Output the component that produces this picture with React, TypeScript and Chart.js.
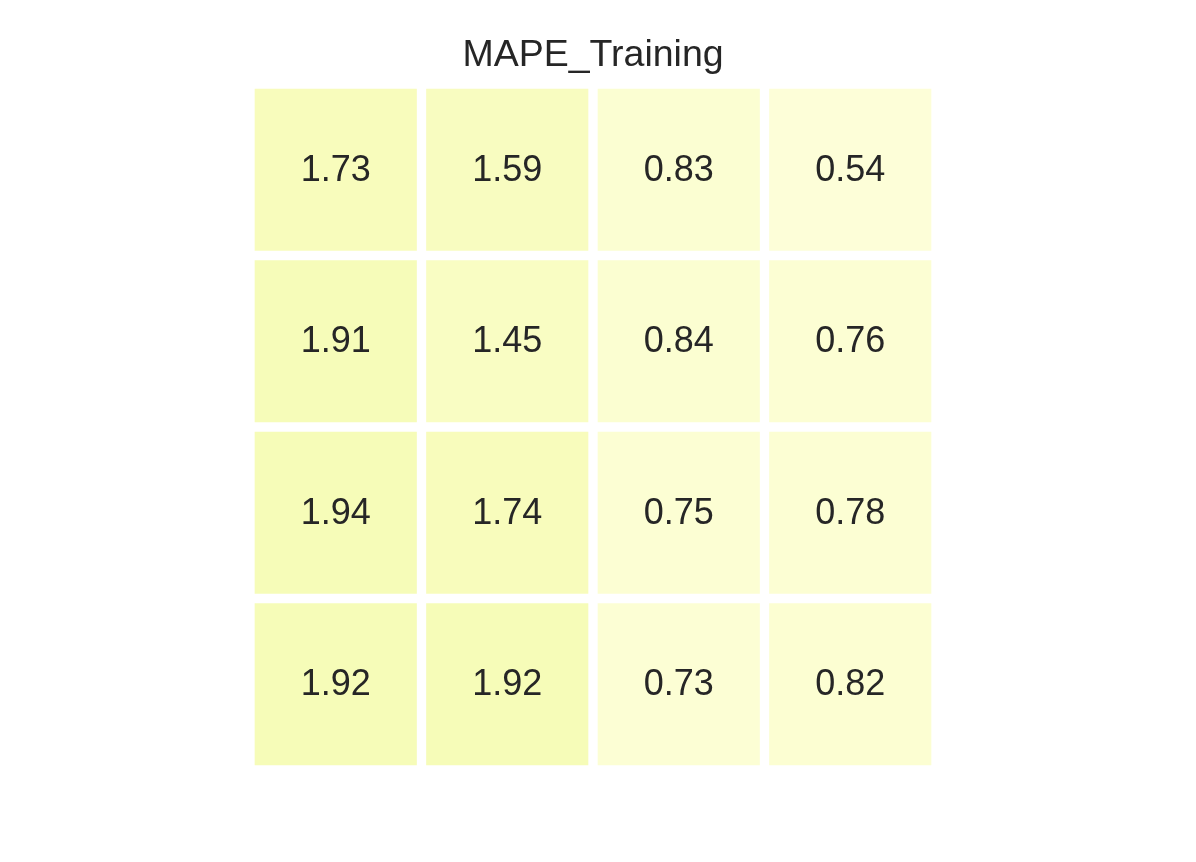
import React, { useEffect, useRef } from "react";
import { Chart, registerables } from "chart.js";

Chart.register(...registerables);

const title = "MAPE_Training";
const columnLabels = ["C1", "C2", "C3", "C4"];
const row1 = [1.73, 1.59, 0.83, 0.54];
const row2 = [1.91, 1.45, 0.84, 0.76];
const row3 = [1.94, 1.74, 0.75, 0.78];
const row4 = [1.92, 1.92, 0.73, 0.82];
const rows = [row1, row2, row3, row4];
const colorMin = 0;
const colorMax = 15;

const ylgn = ["#ffffe5", "#f7fcb9", "#d9f0a3", "#addd8e", "#78c679", "#41ab5d", "#238443", "#006837", "#004529"];

function hexToRgb(h: string) {
  return [parseInt(h.slice(1, 3), 16), parseInt(h.slice(3, 5), 16), parseInt(h.slice(5, 7), 16)];
}

function colorFor(v: number) {
  let t = (v - colorMin) / (colorMax - colorMin);
  t = Math.max(0, Math.min(1, t));
  const pos = t * (ylgn.length - 1);
  const i = Math.min(ylgn.length - 2, Math.floor(pos));
  const f = pos - i;
  const a = hexToRgb(ylgn[i]);
  const b = hexToRgb(ylgn[i + 1]);
  const c = a.map((x, k) => Math.round(x + (b[k] - x) * f));
  return `rgb(${c[0]},${c[1]},${c[2]})`;
}

const FONT = "'Liberation Sans', Arial, Helvetica, sans-serif";

const valueLabels = {
  id: "valueLabels",
  afterDatasetsDraw(chart: any) {
    const ctx = chart.ctx;
    ctx.save();
    ctx.font = `36px ${FONT}`;
    ctx.fillStyle = "#262626";
    ctx.textAlign = "center";
    ctx.textBaseline = "middle";
    chart.data.datasets.forEach((ds: any, di: number) => {
      const meta = chart.getDatasetMeta(di);
      meta.data.forEach((el: any, i: number) => {
        const p = el.getProps(["x", "y", "base"], true);
        const cy = (p.y + p.base) / 2;
        ctx.fillText(rows[di][i].toFixed(2), p.x, cy + 1);
      });
    });
    ctx.restore();
  },
};

export default function App() {
  const ref = useRef<HTMLCanvasElement | null>(null);
  useEffect(() => {
    if (!ref.current) return;
    const chart = new Chart(ref.current, {
      type: "bar",
      data: {
        labels: columnLabels,
        datasets: rows.map((vals, r) => ({
          label: `row${r + 1}`,
          data: vals.map(() => [r, r + 1]) as any,
          backgroundColor: vals.map(colorFor),
          borderColor: "#ffffff",
          borderWidth: 5,
          borderSkipped: false as any,
          grouped: false,
          barPercentage: 1,
          categoryPercentage: 1,
        })),
      },
      options: {
        responsive: false,
        animation: false,
        events: [],
        layout: { padding: { left: 250, right: 260, top: 0, bottom: 92 } },
        plugins: {
          legend: { display: false },
          tooltip: { enabled: false },
          title: {
            display: true,
            text: title,
            color: "#262626",
            font: { family: FONT, size: 37.5, weight: "normal" as any },
            padding: { top: 33, bottom: 6 },
          },
        },
        scales: {
          x: { type: "category", display: false, offset: true, grid: { display: false } },
          y: { type: "linear", display: false, min: 0, max: 4, reverse: true, grid: { display: false } },
        },
      },
      plugins: [valueLabels],
    });
    return () => chart.destroy();
  }, []);
  return (
    <div style={{ position: "absolute", left: 0, top: 0, width: 1196, height: 862, background: "#ffffff" }}>
      <canvas ref={ref} width={1196} height={862} />
    </div>
  );
}
